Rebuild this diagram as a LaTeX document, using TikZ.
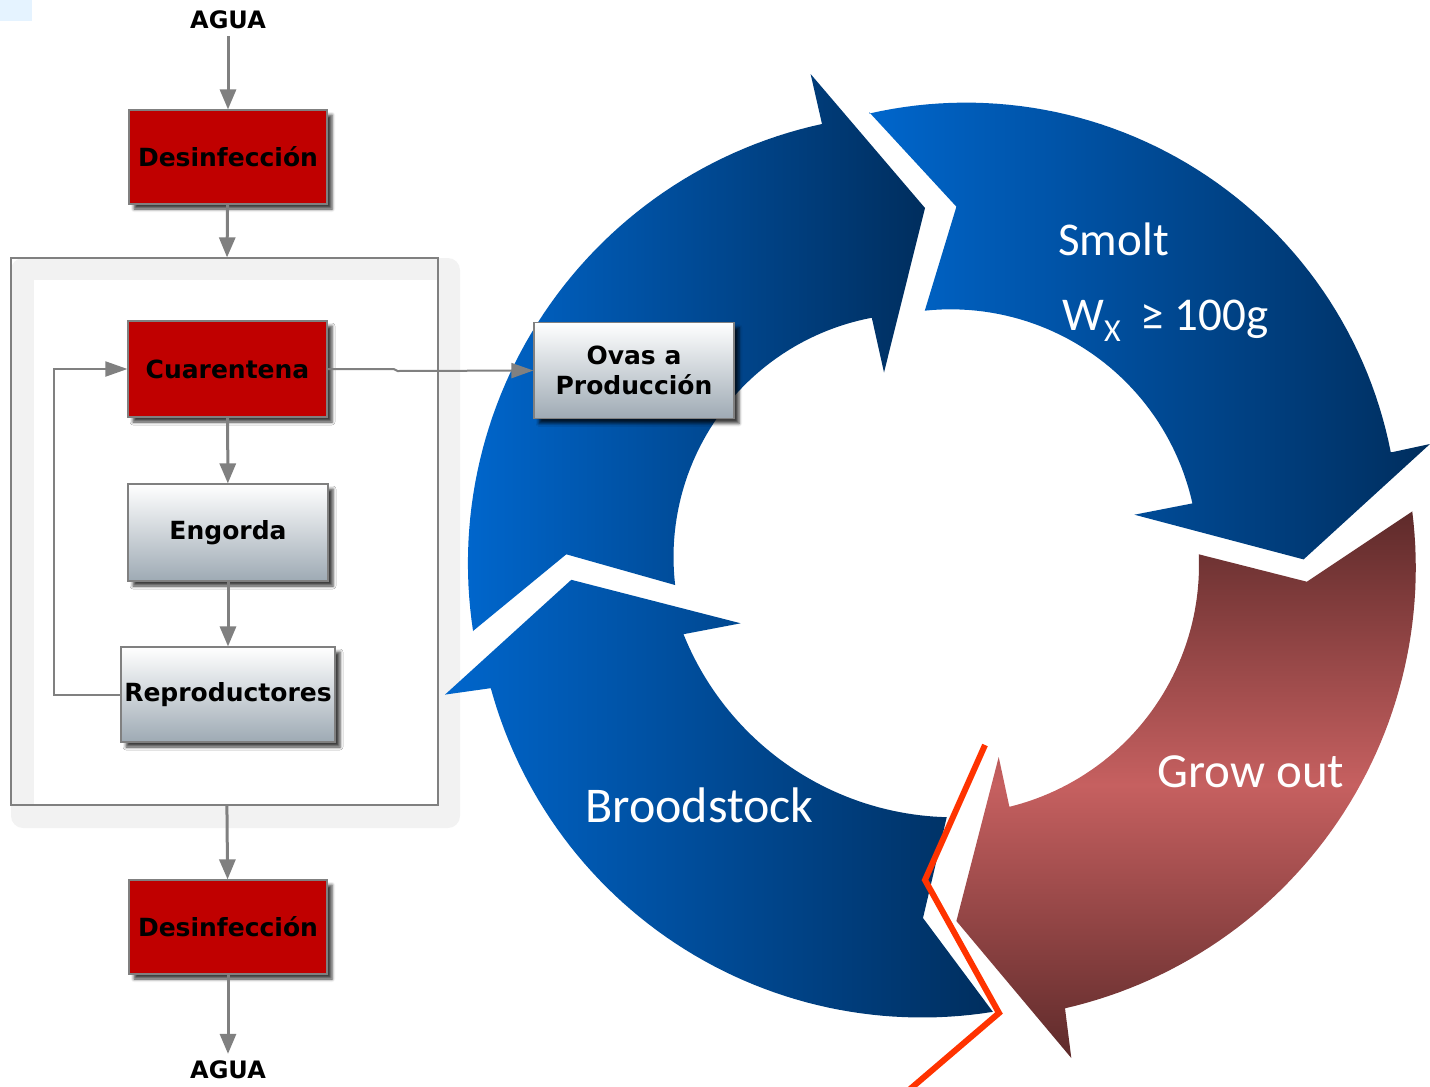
\documentclass[tikz,border=0pt]{standalone}
\usepackage{fontspec}
\newfontfamily\flowfont{DejaVu Sans}
\newfontfamily\cyclefont{Carlito}
\usetikzlibrary{arrows.meta,shadows.blur}
\definecolor{boxred}{RGB}{192,0,0}
\definecolor{boxline}{RGB}{128,128,128}
\definecolor{flowgray}{RGB}{128,128,128}
\definecolor{steelbot}{RGB}{158,170,180}
\definecolor{blueA}{RGB}{0,102,204}
\definecolor{blueB}{RGB}{0,46,94}
\definecolor{wineA}{RGB}{94,42,42}
\definecolor{wineB}{RGB}{198,96,96}
\definecolor{cutred}{RGB}{255,51,0}
\definecolor{panelgray}{RGB}{242,242,242}
\definecolor{cornerblue}{RGB}{229,243,255}

\begin{document}
\begin{tikzpicture}[x=0.5pt,y=-0.5pt,
  stage/.style={draw=boxline, line width=0.6pt, minimum width=99pt, minimum height=47pt,
    inner sep=0pt, align=center, font=\flowfont\bfseries\fontsize{12.5}{15}\selectfont,
    blur shadow={shadow xshift=2.5pt, shadow yshift=-2.5pt, shadow blur radius=1.5pt, shadow opacity=75}},
  redstage/.style={stage, fill=boxred},
  steelstage/.style={stage, top color=white, bottom color=steelbot},
  flow/.style={draw=flowgray, line width=1.5pt, -{Triangle[length=10pt,width=8pt]}},
  link/.style={draw=flowgray, line width=1pt, -{Triangle[length=11pt,width=7.5pt]}},
  endtext/.style={font=\flowfont\bfseries\fontsize{12}{14}\selectfont},
  phase/.style={text=white, font=\cyclefont\fontsize{24.5}{28}\selectfont, anchor=base west, inner sep=0pt},
  bluearrow/.style={left color=blueA, right color=blueB},
]
\useasboundingbox (0,0) rectangle (1430,1087);

% corner tab
\fill[cornerblue] (0,0) rectangle (32,21);

% container with its soft grey band
\fill[panelgray, rounded corners=6pt] (11,258) rectangle (460,828);
\fill[white] (34,280) rectangle (438,805);
\node[draw=boxline, line width=0.6pt, minimum width=213.5pt, minimum height=273.5pt, inner sep=0pt] (cont) at (224.5,531.5) {};

% ---- cycle of four curved arrows (each edge is a circular arc) ----
% upper left arrow
\shade[bluearrow]
  (473,631) -- (566.3,554.3) -- (675,585)
  -- plot[domain=173.4:259.3, samples=50] ({917+243.5*cos(\x)}, {557+243.5*sin(\x)})
  -- (884,372.5) -- (925,208) -- (810.6,74) -- (822,124)
  -- plot[domain=257.7:171.3, samples=60] ({917.5+449.6*cos(\x)}, {563.3+449.6*sin(\x)})
  -- cycle;
% Smolt arrow
\shade[bluearrow]
  (869.3,112.3) -- (956.4,206.7) -- (924.8,310.6)
  -- plot[domain=264:347.5, samples=50] ({950.6+247.7*cos(\x)}, {557+247.7*sin(\x)})
  -- (1134.4,514.7) -- (1303.6,559.4) -- (1430,444) -- (1392,452.2)
  -- plot[domain=348.9:257.1, samples=60] ({965.9+433*cos(\x)}, {535.6+433*sin(\x)})
  -- cycle;
% Grow out arrow
\shade[top color=wineA, bottom color=wineA, middle color=wineB]
  (1412.2,511.5) -- (1306.8,581.7) -- (1198.8,554.3)
  -- plot[domain=-2.5:76.2, samples=50] ({950+249*cos(\x)}, {565+249*sin(\x)})
  -- (998.7,757) -- (956.4,921) -- (1071.3,1058) -- (1065,1008.3)
  -- plot[domain=77.06:-7.16, samples=60] ({963.8+452*cos(\x)}, {567.8+452*sin(\x)})
  -- cycle;
% Broodstock arrow
\shade[bluearrow]
  (993,1012) -- (923,918) -- (946.7,817.3)
  -- plot[domain=91.5:158.1, samples=50] ({954.4+292*cos(\x)}, {525.3+292*sin(\x)})
  -- (740.7,623.3) -- (571.3,579.8) -- (445,694.6) -- (490.5,688.2)
  -- plot[domain=164.7:80.85, samples=60] ({922+447*cos(\x)}, {570.5+447*sin(\x)})
  -- cycle;

% break mark across the cycle
\draw[cutred, line width=3pt] (985,745) -- (925,880) -- (999,1013) -- (909,1090);

% phase labels
\node[phase, font=\cyclefont\fontsize{23.5}{28}\selectfont] (smolt) at (1058,255) {Smolt};
\node[phase, font=\cyclefont\fontsize{23.5}{28}\selectfont] (weight) at (1062,330)
  {W\raisebox{-5.5pt}{\fontsize{16}{16}\selectfont X}\hspace{10pt}≥ 100g};
\node[phase] (grow) at (1157,787) {Grow out};
\node[phase, font=\cyclefont\fontsize{25}{28}\selectfont] (brood) at (585,822) {Broodstock};

% ---- flow of water through the facility ----
\node[endtext] (aguain) at (228,20) {AGUA};
\node[redstage] (des1) at (228,157) {Desinfección};
\node[redstage, minimum width=99.5pt, minimum height=48pt] (cuar) at (227.5,369) {Cuarentena};
\node[steelstage, minimum width=100pt, minimum height=48.5pt] (eng) at (228,532.5) {Engorda};
\node[steelstage, minimum width=107pt, minimum height=47.5pt] (rep) at (228,694.5) {Reproductores};
\node[steelstage, minimum width=100pt, minimum height=48pt] (ovas) at (634,370.5) {Ovas a\\Producción};
\node[redstage] (des2) at (228,927) {Desinfección};
\node[endtext] (aguaout) at (228,1070) {AGUA};

\draw[flow] (aguain) -- (des1);
\draw[flow] (des1) -- (cont);
\draw[flow] (cuar) -- (eng);
\draw[flow] (eng) -- (rep);
\draw[flow] (cont) -- (des2);
\draw[flow] (des2) -- (aguaout);
\draw[link] (rep.west) -- ++(-66,0) |- (cuar.west);
\draw[link] (cuar.east) -- ++(66,0) -- ++(4,2) -- (ovas.west);
\end{tikzpicture}
\end{document}
